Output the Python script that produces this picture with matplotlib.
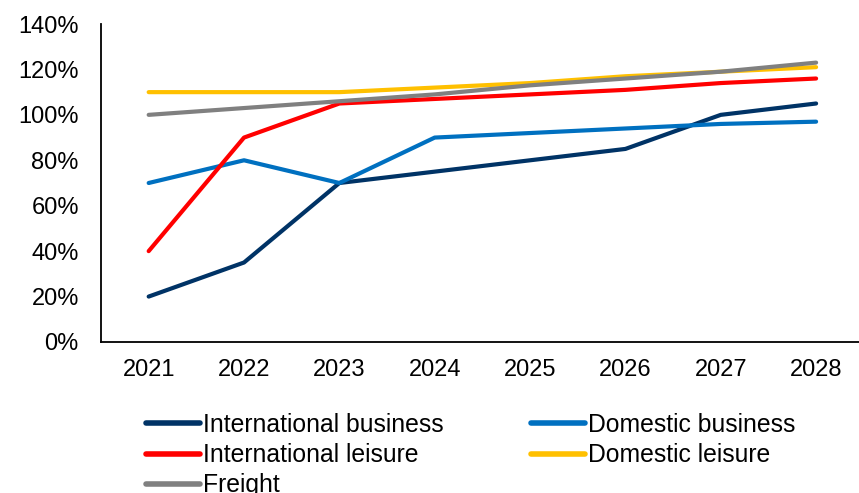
import matplotlib.pyplot as plt
from matplotlib.ticker import PercentFormatter

years = [2021, 2022, 2023, 2024, 2025, 2026, 2027, 2028]
intl_business = [20, 35, 70, 75, 80, 85, 100, 105]
dom_business = [70, 80, 70, 90, 92, 94, 96, 97]
intl_leisure = [40, 90, 105, 107, 109, 111, 114, 116]
dom_leisure = [110, 110, 110, 112, 114, 117, 119, 121]
freight = [100, 103, 106, 109, 113, 116, 119, 123]

plt.rcParams['font.family'] = ['Liberation Sans', 'DejaVu Sans']

fig = plt.figure(figsize=(8.59, 4.93), dpi=100)
ax = fig.add_axes([101 / 859, 151 / 493, 758 / 859, 318 / 493])

lw = 3
l1, = ax.plot(years, intl_business, color='#003366', lw=lw, label='International business', solid_capstyle='round')
l2, = ax.plot(years, dom_business, color='#0070C0', lw=lw, label='Domestic business', solid_capstyle='round')
l3, = ax.plot(years, intl_leisure, color='#FF0000', lw=lw, label='International leisure', solid_capstyle='round')
l4, = ax.plot(years, dom_leisure, color='#FFC000', lw=lw, label='Domestic leisure', solid_capstyle='round')
l5, = ax.plot(years, freight, color='#808080', lw=lw, label='Freight', solid_capstyle='round')

ax.set_xlim(2020.5, 2028.45)
ax.set_ylim(0, 140)
ax.set_yticks(range(0, 141, 20))
ax.set_xticks(years)
ax.yaxis.set_major_formatter(PercentFormatter(decimals=0))
ax.tick_params(axis='both', length=0, labelsize=17)
ax.tick_params(axis='y', pad=16)
ax.tick_params(axis='x', pad=12)

for s in ['top', 'right']:
    ax.spines[s].set_visible(False)
for s in ['left', 'bottom']:
    ax.spines[s].set_linewidth(1.3)

# legend: two columns, Freight sits alone in the third row
handles = [l1, l3, l5, l2, l4]
leg = fig.legend(handles=handles, labels=[h.get_label() for h in handles],
                 ncol=2, loc='upper left', bbox_to_anchor=(146 / 859, 1 - 413 / 493),
                 frameon=False, fontsize=17.8, handlelength=2.17, handletextpad=0.12,
                 columnspacing=3.55, labelspacing=0.25, borderpad=0, borderaxespad=0)
for h in leg.get_lines():
    h.set_linewidth(4)

fig.savefig('out.png', dpi=100)
